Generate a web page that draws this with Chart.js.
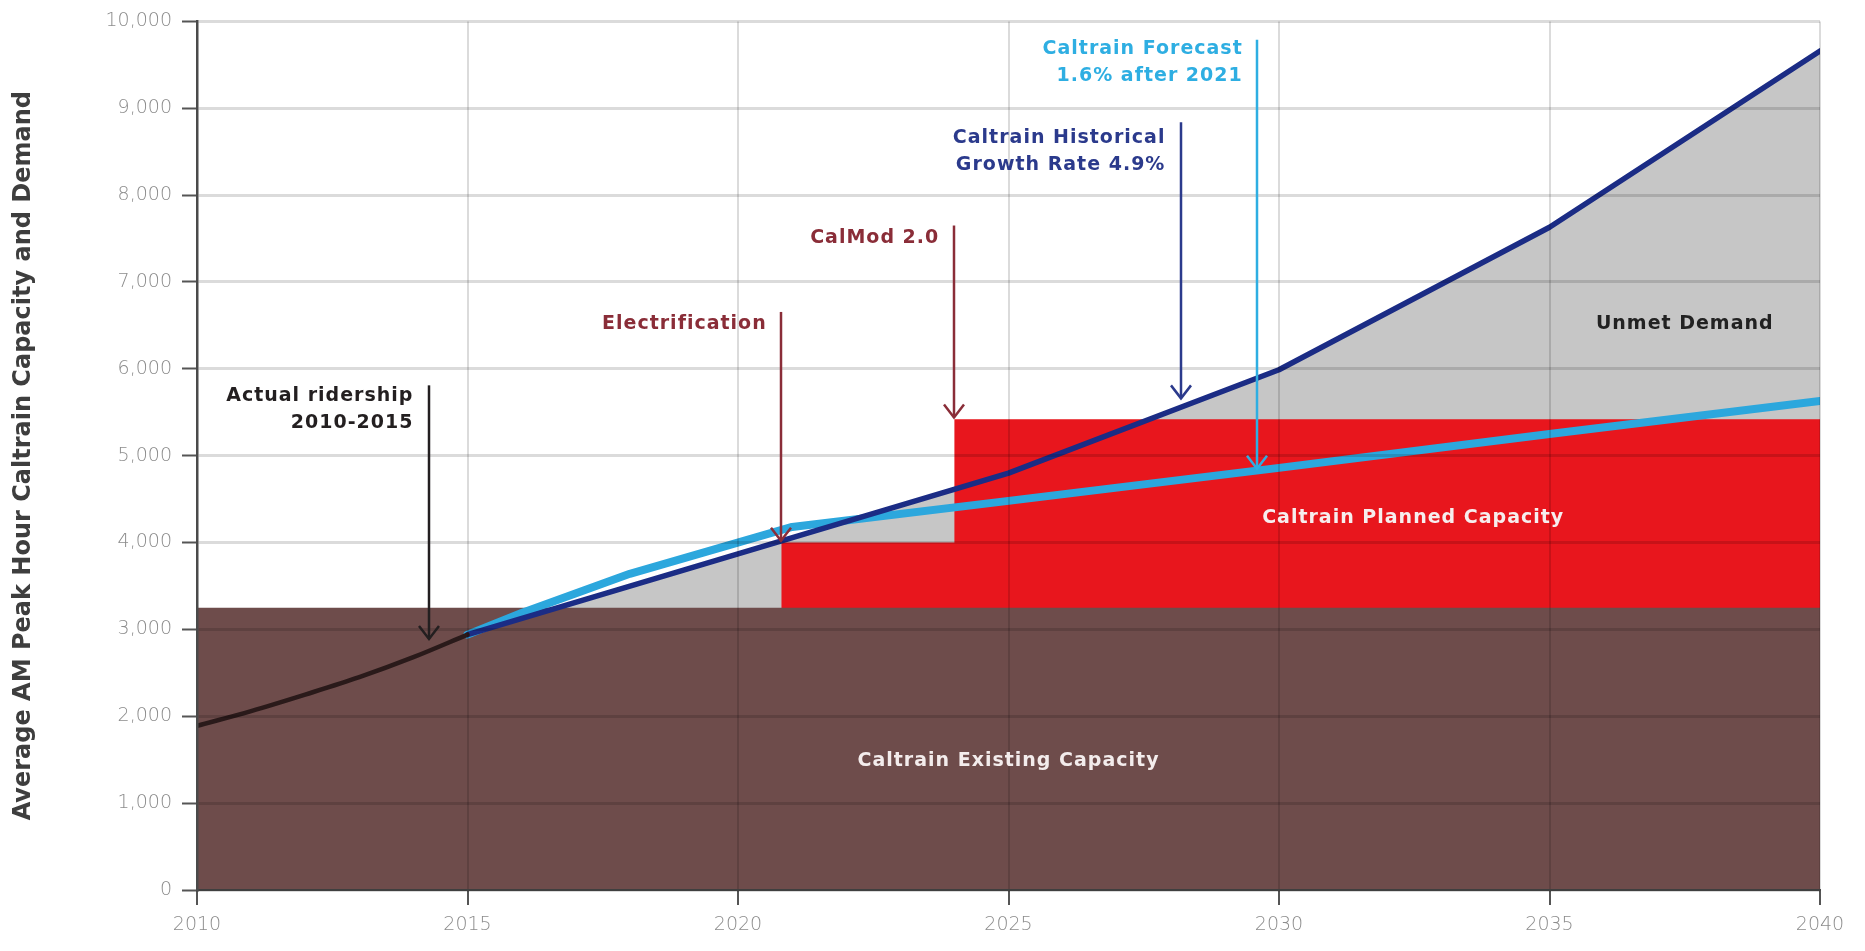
<!DOCTYPE html>
<html lang="en">
<head>
<meta charset="UTF-8">
<title>Caltrain Capacity and Demand</title>
<script src="https://cdn.jsdelivr.net/npm/chart.js"></script>
<style>
  html, body { margin: 0; padding: 0; background: #fff; }
  #wrap { width: 1865px; height: 951px; position: relative; }
</style>
</head>
<body>
<div id="wrap"><canvas id="demandChart"></canvas></div>
<script>
// tick labels
const xTicks = [2010, 2015, 2020, 2025, 2030, 2035, 2040];
const yTicks = [0, 1000, 2000, 3000, 4000, 5000, 6000, 7000, 8000, 9000, 10000];

// actual ridership 2010-2015
const actualYears = [2010, 2011, 2012, 2013, 2014, 2015];
const actualRiders = [1890, 2060, 2250, 2450, 2680, 2940];

// historical growth rate 4.9%
const historicalYears = [2015, 2020, 2025, 2030, 2035, 2040];
const historicalDemand = [2940, 3870, 4800, 5990, 7630, 9660];

// caltrain forecast, 1.6% after 2021
const forecastYears = [2015, 2016, 2018, 2021, 2025, 2030, 2035, 2040];
const forecastDemand = [2940, 3190, 3640, 4180, 4480, 4860, 5250, 5630];

// capacity
const existingYears = [2010, 2040];
const existingCapacity = [3250, 3250];
const plannedYears = [2020.8, 2024, 2040];
const plannedCapacity = [4000, 5420, 5420];

function pts(xs, ys) {
  return xs.map((x, i) => ({ x: x, y: ys[i] }));
}

// text labels and arrows, placed in data units
const notes = [
  { lines: ['Actual ridership', '2010-2015'], color: '#231f20', align: 'right', textX: 2014.0, textY: 5690,
    arrowX: 2014.29, arrowTop: 5810, arrowTip: 2890 },
  { lines: ['Electrification'], color: '#8a2d38', align: 'right', textX: 2020.53, textY: 6520,
    arrowX: 2020.8, arrowTop: 6655, arrowTip: 4020 },
  { lines: ['CalMod 2.0'], color: '#8a2d38', align: 'right', textX: 2023.72, textY: 7500,
    arrowX: 2023.99, arrowTop: 7650, arrowTip: 5440 },
  { lines: ['Caltrain Historical', 'Growth Rate 4.9%'], color: '#2b3a8c', align: 'right', textX: 2027.9, textY: 8660,
    arrowX: 2028.19, arrowTop: 8840, arrowTip: 5660 },
  { lines: ['Caltrain Forecast', '1.6% after 2021'], color: '#2eaee2', align: 'right', textX: 2029.33, textY: 9680,
    arrowX: 2029.6, arrowTop: 9790, arrowTip: 4850 },
  { lines: ['Unmet Demand'], color: '#222222', align: 'center', textX: 2037.5, textY: 6520 },
  { lines: ['Caltrain Planned Capacity'], color: '#f6eeee', align: 'center', textX: 2032.48, textY: 4280 },
  { lines: ['Caltrain Existing Capacity'], color: '#f3ecec', align: 'center', textX: 2025.0, textY: 1490 }
];

const notesPlugin = {
  id: 'notes',
  afterDraw(chart) {
    const c = chart.ctx;
    const xs = chart.scales.x;
    const ys = chart.scales.y;
    c.save();
    notes.forEach(n => {
      c.font = 'bold 19px "DejaVu Sans"';
      c.letterSpacing = '1px';
      c.fillStyle = n.color;
      c.textAlign = n.align;
      c.textBaseline = 'middle';
      const tx = xs.getPixelForValue(n.textX);
      const ty = ys.getPixelForValue(n.textY);
      n.lines.forEach((line, i) => c.fillText(line, tx, ty + i * 27));
      if (n.arrowX !== undefined) {
        const ax = Math.round(xs.getPixelForValue(n.arrowX));
        const top = ys.getPixelForValue(n.arrowTop);
        const tip = ys.getPixelForValue(n.arrowTip);
        c.strokeStyle = n.color;
        c.lineWidth = 2.5;
        c.beginPath();
        c.moveTo(ax, top);
        c.lineTo(ax, tip);
        c.stroke();
        c.beginPath();
        c.moveTo(ax - 10, tip - 13);
        c.lineTo(ax, tip);
        c.lineTo(ax + 10, tip - 13);
        c.stroke();
      }
    });
    c.restore();
  }
};

const tickFont = { family: 'DejaVu Sans', size: 19, weight: '300' };

const ctx = document.getElementById('demandChart').getContext('2d');
const demandChart = new Chart(ctx, {
  type: 'line',
  data: {
    datasets: [
      { label: 'Unmet Demand', data: pts(historicalYears, historicalDemand), borderWidth: 0,
        backgroundColor: '#c6c6c6', fill: 'origin', order: 6 },
      { label: 'Caltrain Planned Capacity', data: pts(plannedYears, plannedCapacity), stepped: true, borderWidth: 0,
        backgroundColor: '#e8161d', fill: 'origin', order: 5 },
      { label: 'Caltrain Existing Capacity', data: pts(existingYears, existingCapacity), borderWidth: 0,
        backgroundColor: '#6e4c4b', fill: 'origin', order: 4 },
      { label: 'Caltrain Forecast', data: pts(forecastYears, forecastDemand), borderColor: '#2ca7dd',
        borderWidth: 8, fill: false, order: 3 },
      { label: 'Caltrain Historical Growth Rate', data: pts(historicalYears, historicalDemand), borderColor: '#1b2c85',
        borderWidth: 5.5, fill: false, order: 2 },
      { label: 'Actual ridership', data: pts(actualYears, actualRiders), borderColor: '#2a1a1a',
        borderWidth: 4.5, fill: false, cubicInterpolationMode: 'monotone', order: 1 }
    ]
  },
  options: {
    responsive: true,
    maintainAspectRatio: false,
    animation: false,
    layout: { padding: { top: 18, right: 45, left: 0, bottom: 0 } },
    plugins: { legend: { display: false }, tooltip: { enabled: false } },
    elements: {
      point: { radius: 0 },
      line: { borderCapStyle: 'round', borderJoinStyle: 'round' }
    },
    scales: {
      x: {
        type: 'linear', min: 2010, max: 2040,
        afterBuildTicks: s => { s.ticks = xTicks.map(v => ({ value: v })); },
        afterFit: s => { s.height = 61; },
        ticks: { callback: v => String(v), color: '#8c8c8c', font: tickFont, padding: 9, maxRotation: 0 },
        grid: { color: 'rgba(0,0,0,0.14)', lineWidth: 2, z: 1, tickLength: 15, tickColor: '#555', tickWidth: 2 },
        border: { color: '#4a4a4a', width: 2, z: 1 }
      },
      y: {
        min: 0, max: 10000,
        afterBuildTicks: s => { s.ticks = yTicks.map(v => ({ value: v })); },
        afterFit: s => { s.width = 197; },
        ticks: { callback: v => v.toLocaleString('en-US'), color: '#8c8c8c', font: tickFont, padding: 10 },
        grid: { color: 'rgba(0,0,0,0.14)', lineWidth: 3, z: 1, tickLength: 15, tickColor: '#555', tickWidth: 2 },
        border: { color: '#4a4a4a', width: 2.5, z: 1 },
        title: {
          display: true,
          text: 'Average AM Peak Hour Caltrain Capacity and Demand',
          color: '#3e3e3e',
          font: { family: 'DejaVu Sans', weight: 'bold', size: 24 },
          padding: { top: 9, bottom: 0 }
        }
      }
    }
  },
  plugins: [notesPlugin]
});
</script>
</body>
</html>
